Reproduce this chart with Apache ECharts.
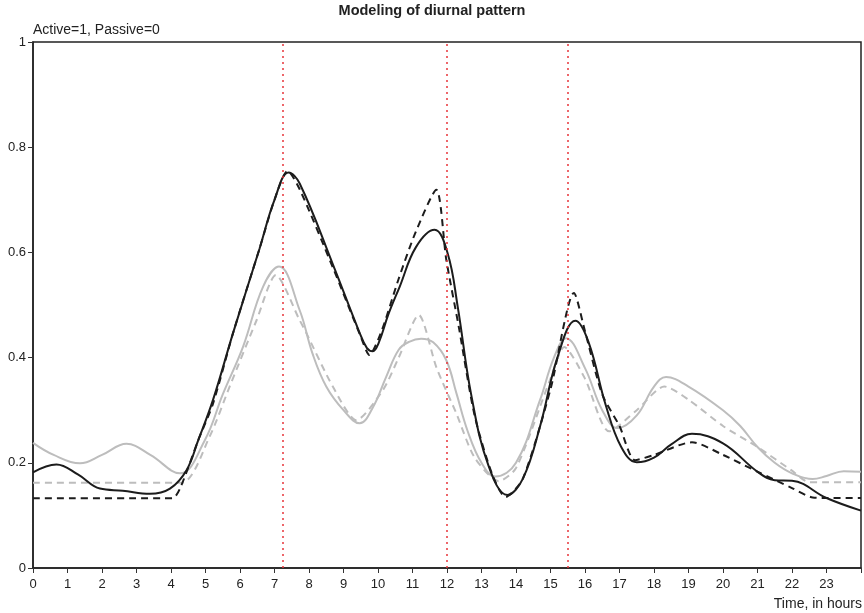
<!DOCTYPE html>
<html>
<head>
<meta charset="utf-8">
<script src="https://cdn.jsdelivr.net/npm/echarts@6/dist/echarts.min.js"></script>
<style>
  html, body { margin: 0; padding: 0; background: #fff; }
  #chart { width: 864px; height: 613px; }
</style>
</head>
<body>
<div id="chart"></div>
<script>
// x ticks 0..24 hours, y 0..1
var xTicks = [0,1,2,3,4,5,6,7,8,9,10,11,12,13,14,15,16,17,18,19,20,21,22,23];
var yTicks = [0, 0.2, 0.4, 0.6, 0.8, 1];
var markX = [7.25, 12, 15.5];

// black solid
var blackSolid = [
  [0,0.182],[0.68,0.197],[1.3,0.178],[1.94,0.151],[2.6,0.147],[3.39,0.141],[3.97,0.151],[4.45,0.186],
  [4.79,0.243],[5.22,0.32],[5.8,0.447],[6.57,0.608],[7,0.70],[7.41,0.752],[7.73,0.731],[8.7,0.576],
  [9.45,0.45],[9.68,0.418],[9.85,0.412],[10.02,0.428],[10.3,0.482],[10.63,0.535],[11.1,0.61],[11.64,0.643],
  [12.02,0.598],[12.31,0.497],[12.7,0.33],[13.2,0.195],[13.75,0.139],[14.2,0.17],[14.7,0.27],[15.2,0.40],
  [15.72,0.47],[16.1,0.43],[16.6,0.31],[17.05,0.23],[17.5,0.201],[18,0.21],[18.5,0.235],[19.1,0.255],
  [20,0.237],[21,0.183],[21.5,0.167],[22,0.166],[23,0.133],[24,0.109]
];
// black dashed
var blackDash = [
  [0,0.1325],[4.04,0.1325],[4.26,0.151],[4.79,0.243],[5.22,0.313],[5.8,0.447],[6.57,0.608],[7,0.70],
  [7.38,0.755],[7.73,0.72],[8.7,0.57],[9.5,0.44],[9.75,0.405],[10.1,0.45],[10.6,0.55],[11.1,0.64],
  [11.69,0.719],[11.98,0.586],[12.34,0.459],[12.8,0.29],[13.3,0.18],[13.7,0.135],[14.2,0.17],[15,0.34],
  [15.68,0.523],[16,0.45],[16.5,0.33],[17,0.27],[17.45,0.205],[18,0.215],[19.1,0.239],[20,0.215],
  [21,0.183],[22,0.152],[22.6,0.134],[23,0.133],[24,0.133]
];
// gray solid
var graySolid = [
  [0,0.238],[0.6,0.215],[1.36,0.199],[2,0.215],[2.71,0.236],[3.4,0.215],[4.26,0.18],[4.98,0.243],
  [5.5,0.33],[6.09,0.421],[6.67,0.535],[7.13,0.573],[7.73,0.49],[8.1,0.408],[8.5,0.345],[9,0.30],
  [9.47,0.275],[9.85,0.305],[10.24,0.364],[10.6,0.415],[10.9,0.43],[11.25,0.436],[11.6,0.429],[11.98,0.395],
  [12.27,0.333],[12.6,0.26],[13,0.20],[13.4,0.174],[14,0.20],[14.7,0.32],[15.1,0.40],[15.45,0.437],
  [16,0.38],[16.5,0.30],[16.95,0.266],[17.5,0.29],[18,0.345],[18.35,0.363],[19,0.345],[20,0.30],
  [20.5,0.27],[21,0.23],[21.5,0.20],[22,0.18],[22.6,0.169],[23,0.175],[23.5,0.184],[24,0.183]
];
// gray dashed
var grayDash = [
  [0,0.162],[4.3,0.162],[5.12,0.25],[5.7,0.345],[6.48,0.471],[7.04,0.557],[7.73,0.471],[7.92,0.447],
  [8.69,0.345],[9.37,0.281],[10.14,0.338],[10.6,0.40],[11.18,0.481],[11.7,0.38],[12.27,0.294],[12.8,0.21],
  [13.5,0.165],[14,0.19],[15,0.36],[15.4,0.42],[16,0.36],[16.7,0.26],[17.5,0.30],[18.3,0.345],
  [19,0.32],[20,0.27],[21,0.23],[22,0.185],[22.5,0.163],[23,0.163],[24,0.163]
];

var chart = echarts.init(document.getElementById('chart'));
var txt = '#222';
var font = 'Liberation Sans, Arial, sans-serif';

function line(data, color, dashed, smooth, z) {
  return {
    type: 'line', data: data, showSymbol: false, smooth: smooth, z: z,
    lineStyle: { color: color, width: 2, type: dashed ? [7,5] : 'solid' },
    animation: false
  };
}

var series = [
  line(graySolid, '#bdbdbd', false, 0.4, 2),
  line(grayDash, '#bdbdbd', true, 0.25, 2),
  line(blackSolid, '#1c1c1c', false, 0.4, 3),
  line(blackDash, '#1c1c1c', true, 0.25, 3)
];
series.push({
  type: 'line', data: [], z: 1,
  markLine: {
    silent: true, symbol: 'none', label: { show: false }, animation: false,
    lineStyle: { color: '#e8353a', type: [2,4], width: 1.5 },
    data: markX.map(function(v){ return { xAxis: v }; })
  }
});

chart.setOption({
  animation: false,
  textStyle: { fontFamily: font },
  title: [
    { text: 'Modeling of diurnal pattern', left: 'center', top: 3, padding: 0,
      textStyle: { fontSize: 14.5, fontWeight: 'bold', color: txt, fontFamily: font } },
    { text: 'Active=1, Passive=0', left: 33, top: 23, padding: 0,
      textStyle: { fontSize: 14, fontWeight: 'normal', color: txt, fontFamily: font } },
    { text: 'Time, in hours', right: 2, top: 597, padding: 0,
      textStyle: { fontSize: 14, fontWeight: 'normal', color: txt, fontFamily: font } }
  ],
  grid: { left: 33, right: 2, top: 42, bottom: 45, show: true, borderColor: '#222', borderWidth: 1.5 },
  xAxis: {
    type: 'value', min: 0, max: 24, interval: 1,
    axisLine: { show: true, lineStyle: { color: '#222', width: 1.5 } },
    axisTick: { show: true, length: 5, lineStyle: { color: '#333' } },
    axisLabel: { color: txt, fontSize: 13, margin: 10,
      formatter: function(v){ return xTicks.indexOf(v) >= 0 ? String(v) : ''; } },
    splitLine: { show: false }
  },
  yAxis: {
    type: 'value', min: 0, max: 1, interval: 0.2,
    axisLine: { show: true, lineStyle: { color: '#222', width: 1.5 } },
    axisTick: { show: true, length: 5, lineStyle: { color: '#333' } },
    axisLabel: { color: txt, fontSize: 13, margin: 7,
      formatter: function(v){
        var m = yTicks.filter(function(t){ return Math.abs(t - v) < 1e-6; });
        return m.length ? String(+m[0].toFixed(1)) : '';
      } },
    splitLine: { show: false }
  },
  series: series
});
</script>
</body>
</html>
